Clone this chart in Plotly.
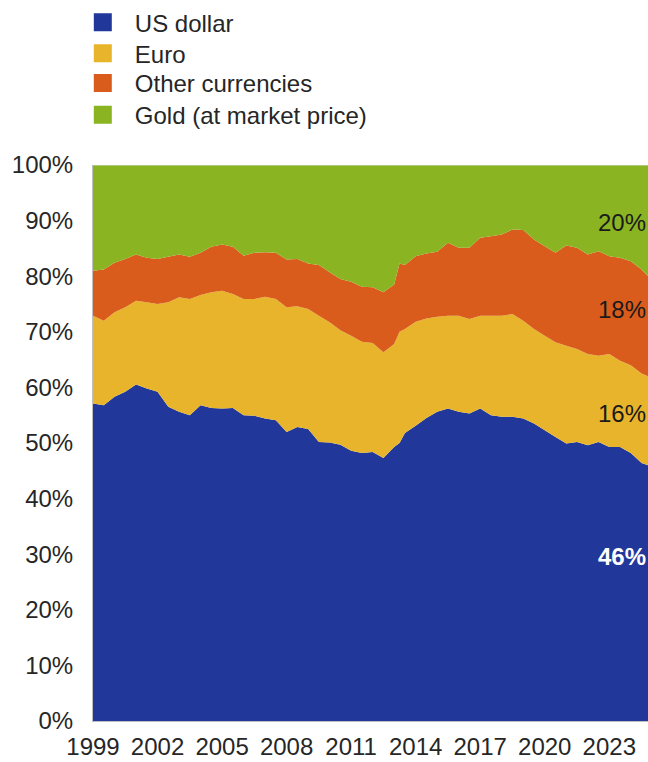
import plotly.graph_objects as go

# Time axis (half-year steps plus one extra reading at the 2013 jump, last point = latest observation)
years = [1999.0, 1999.5, 2000.0, 2000.5, 2001.0, 2001.5, 2002.0, 2002.5, 2003.0, 2003.5,
         2004.0, 2004.5, 2005.0, 2005.5, 2006.0, 2006.5, 2007.0, 2007.5, 2008.0, 2008.5,
         2009.0, 2009.5, 2010.0, 2010.5, 2011.0, 2011.5, 2012.0, 2012.5, 2013.0, 2013.25,
         2013.5, 2014.0, 2014.5, 2015.0, 2015.5, 2016.0, 2016.5, 2017.0, 2017.5, 2018.0,
         2018.5, 2019.0, 2019.5, 2020.0, 2020.5, 2021.0, 2021.5, 2022.0, 2022.5, 2023.0,
         2023.5, 2024.0, 2024.5, 2024.8]

usd = [57.1, 56.8, 58.3, 59.2, 60.5, 59.8, 59.2, 56.5, 55.6, 55.0,
       56.8, 56.3, 56.2, 56.3, 55.0, 54.9, 54.4, 54.1, 52.0, 52.9,
       52.5, 50.2, 50.1, 49.7, 48.6, 48.2, 48.4, 47.3, 49.3, 50.0,
       51.8, 53.1, 54.5, 55.6, 56.2, 55.6, 55.3, 56.2, 55.0, 54.7,
       54.7, 54.4, 53.5, 52.3, 51.1, 49.9, 50.2, 49.6, 50.2, 49.3,
       49.3, 48.2, 46.4, 46.0]

euro = [15.8, 15.2, 15.2, 15.2, 15.1, 15.5, 15.8, 18.8, 20.6, 20.9,
        19.8, 20.8, 21.2, 20.5, 20.9, 21.0, 21.9, 21.8, 22.4, 21.7,
        21.6, 22.7, 21.6, 20.6, 20.7, 20.0, 19.6, 19.0, 18.5, 20.0,
        18.7, 18.7, 17.9, 17.1, 16.7, 17.3, 17.0, 16.7, 17.9, 18.2,
        18.5, 17.6, 17.0, 17.0, 17.0, 17.6, 16.7, 16.4, 15.5, 16.7,
        15.5, 15.8, 16.1, 16.0]

other = [8.1, 9.2, 8.9, 8.7, 8.3, 8.0, 8.1, 8.2, 7.7, 7.6,
         7.6, 8.2, 8.3, 8.5, 7.8, 8.3, 8.0, 8.3, 8.6, 8.5,
         8.2, 9.1, 9.0, 9.2, 9.7, 9.9, 10.0, 10.8, 10.7, 12.3,
         11.5, 11.8, 11.7, 11.7, 13.1, 12.2, 12.8, 14.0, 14.3, 14.6,
         15.2, 16.3, 16.1, 16.1, 16.1, 18.0, 18.2, 17.9, 18.8, 17.6,
         18.5, 18.7, 18.7, 18.0]

gold = [19.0, 18.8, 17.6, 16.9, 16.1, 16.7, 16.9, 16.5, 16.1, 16.5,
        15.8, 14.7, 14.3, 14.7, 16.3, 15.8, 15.7, 15.8, 17.0, 16.9,
        17.7, 18.0, 19.3, 20.5, 21.0, 21.9, 22.0, 22.9, 21.5, 17.7,
        18.0, 16.4, 15.9, 15.6, 14.0, 14.9, 14.9, 13.1, 12.8, 12.5,
        11.6, 11.7, 13.4, 14.6, 15.8, 14.5, 14.9, 16.1, 15.5, 16.4,
        16.7, 17.3, 18.8, 20.0]

series_names = ["US dollar", "Euro", "Other currencies", "Gold (at market price)"]
series_values = [usd, euro, other, gold]
series_colors = ["#21389A", "#E8B42B", "#D95C1D", "#8AB422"]

x_tick_vals = [1999, 2002, 2005, 2008, 2011, 2014, 2017, 2020, 2023]
x_tick_text = ["1999", "2002", "2005", "2008", "2011", "2014", "2017", "2020", "2023"]
y_tick_vals = [0, 10, 20, 30, 40, 50, 60, 70, 80, 90, 100]
y_tick_text = ["0%", "10%", "20%", "30%", "40%", "50%", "60%", "70%", "80%", "90%", "100%"]

end_labels = ["46%", "16%", "18%", "20%"]

# layout: vertical placement (in axis %) of end labels, and legend rows (paper y)
END_LABEL_Y = [29.5, 55.3, 74.1, 89.6]
LEGEND_ROW_Y = [1.256, 1.2004, 1.1467, 1.0895]

FONT = "Liberation Sans, Arial, sans-serif"
TXT = "#262626"

fig = go.Figure()
for name, vals, col in zip(series_names, series_values, series_colors):
    fig.add_trace(go.Scatter(
        x=years, y=vals, name=name, mode="none", stackgroup="one",
        fillcolor=col, showlegend=False, hoverinfo="x+y+name"))

legend_ids = ["legend", "legend2", "legend3", "legend4"]
for name, col, lid in zip(series_names, series_colors, legend_ids):
    fig.add_trace(go.Scatter(
        x=[None], y=[None], name=name, mode="markers", legend=lid,
        marker=dict(symbol="square", size=16, color=col,
                    line=dict(color=col, width=2))))

for i, (lab, ly) in enumerate(zip(end_labels, END_LABEL_Y)):
    fig.add_annotation(
        x=1.0, xref="paper", xanchor="right", y=ly, yref="y", yanchor="middle",
        text=("<b>%s</b>" % lab) if i == 0 else lab, showarrow=False,
        font=dict(family=FONT, size=24, color="white" if i == 0 else "#1a1a1a"))

legend_common = dict(x=-0.04, xanchor="left", yanchor="middle", itemwidth=54,
                     font=dict(family=FONT, size=24, color=TXT),
                     bgcolor="rgba(0,0,0,0)")
layout_legends = {lid: dict(legend_common, y=ly) for lid, ly in zip(legend_ids, LEGEND_ROW_Y)}

fig.update_layout(
    width=648, height=762,
    margin=dict(l=93, r=0, t=162, b=41),
    paper_bgcolor="white", plot_bgcolor="white",
    font=dict(family=FONT, size=24, color=TXT),
    showlegend=True,
    xaxis=dict(range=[1999, 2024.8], tickvals=x_tick_vals, ticktext=x_tick_text,
               showgrid=False, zeroline=False, showline=True, linecolor="#bfbfbf",
               linewidth=1, ticks="", ticklabelstandoff=4,
               tickfont=dict(family=FONT, size=24, color=TXT)),
    yaxis=dict(range=[0, 100], tickvals=y_tick_vals, ticktext=y_tick_text,
               showgrid=False, zeroline=False, showline=True, linecolor="#bfbfbf",
               linewidth=1, ticks="", ticklabelstandoff=14,
               tickfont=dict(family=FONT, size=24, color=TXT)),
    **layout_legends,
)
fig.add_hline(y=100, line=dict(color="#d9d9d9", width=1))

fig.write_html("out.html", config={"displayModeBar": False},
               post_script="document.body.style.margin='0px';")
